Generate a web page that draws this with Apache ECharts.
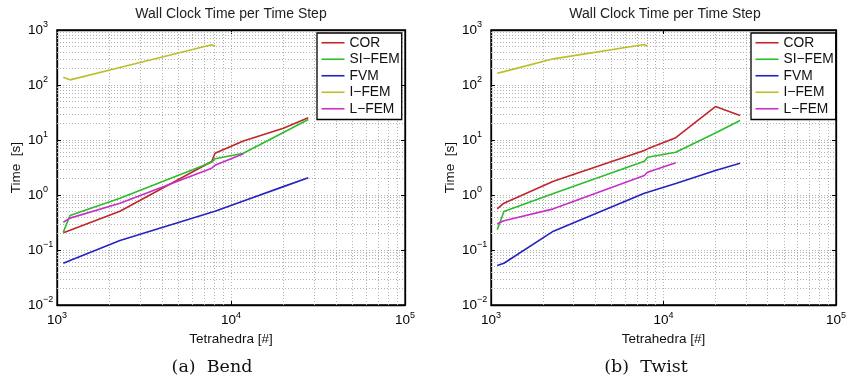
<!DOCTYPE html>
<html>
<head>
<meta charset="utf-8">
<script src="https://cdn.jsdelivr.net/npm/echarts@6/dist/echarts.min.js"></script>
<style>
  html, body { margin: 0; padding: 0; background: #ffffff; }
  #chart { width: 849px; height: 383px; }
</style>
</head>
<body>
<div id="chart"></div>
<script>
// Mesh sizes (number of tetrahedra) shared by both experiments
const tetrahedra = [1087, 1188, 2300, 7744, 8090, 11780, 20000, 27800];

const seriesNames = ['COR', 'SI\u2212FEM', 'FVM', 'I\u2212FEM', 'L\u2212FEM'];
const seriesColors = ['#c0262d', '#2cbd2c', '#2424c0', '#bdbd2a', '#c82ec8'];

// Wall clock time per time step [s], bend experiment
const bendCOR   = [0.206, 0.229, 0.507, 4.06, 5.75, 9.6, 16.4, 25.3];
const bendSIFEM = [0.211, 0.424, 0.87, 3.94, 4.55, 5.75, 13.7, 23.6];
const bendFVM   = [0.0575, 0.0647, 0.149, 0.486, 0.507, 0.78, 1.42, 2.06];
const bendIFEM  = [139, 124, 208, 538, 507, null, null, null];
const bendLFEM  = [0.32, 0.38, 0.71, 3.07, 3.47, 5.6, null, null];

// Wall clock time per time step [s], twist experiment
const twistCOR   = [0.56, 0.71, 1.78, 6.44, 6.9, 11.0, 40.6, 27.9];
const twistSIFEM = [0.233, 0.50, 1.07, 4.12, 4.87, 6.0, 13.4, 22.6];
const twistFVM   = [0.052, 0.0575, 0.22, 1.08, 1.12, 1.62, 2.78, 3.79];
const twistIFEM  = [164, 175, 299, 545, 501, null, null, null];
const twistLFEM  = [0.30, 0.34, 0.56, 2.26, 2.6, 3.85, null, null];

// Axis decades (tick labels are 10^e)
const xTickExponents = [3, 4, 5];
const yTickExponents = [-2, -1, 0, 1, 2, 3];
const minorMultipliers = [2, 3, 4, 5, 6, 7, 8, 9];

const panelTitle = 'Wall Clock Time per Time Step';
const captions = ['(a)  Bend', '(b)  Twist'];
const xName = 'Tetrahedra [#]';
const yName = 'Time  [s]';

const SANS = '"Liberation Sans", Arial, Helvetica, sans-serif';
const SERIF = '"DejaVu Serif", serif';

const xMin = Math.pow(10, xTickExponents[0]);
const xMax = Math.pow(10, xTickExponents[xTickExponents.length - 1]);
const yMin = Math.pow(10, yTickExponents[0]);
const yMax = Math.pow(10, yTickExponents[yTickExponents.length - 1]);

function powerLabel(value) {
  const e = Math.round(Math.log10(value));
  const s = e < 0 ? '\u2212' + (-e) : String(e);
  return '{b|10}{s|' + s + '}';
}
const labelRich = {
  b: { fontSize: 13.5, fontFamily: SANS, color: '#000' },
  s: { fontSize: 9, fontFamily: SANS, color: '#000', padding: [0, 0, 10, 0] }
};

function minorValues(exps) {
  const out = [];
  for (let i = 0; i < exps.length - 1; i++) {
    for (const m of minorMultipliers) out.push(m * Math.pow(10, exps[i]));
  }
  return out;
}

const gridLeft = [57, 491];
const gridW = 348;
const gridTop = 30;
const gridH = 275;
const dotted = { color: '#b3b3b3', type: [1, 2], width: 1 };
const tickStyle = { show: true, inside: true, length: 4, lineStyle: { color: '#000', width: 1 } };
const frameLine = { show: true, lineStyle: { color: '#000', width: 1.3 } };

const grids = [], xAxes = [], yAxes = [], series = [], titles = [], legends = [];

const panels = [
  [bendCOR, bendSIFEM, bendFVM, bendIFEM, bendLFEM],
  [twistCOR, twistSIFEM, twistFVM, twistIFEM, twistLFEM]
];

panels.forEach((panel, p) => {
  grids.push({
    left: gridLeft[p], top: gridTop, width: gridW, height: gridH,
    show: true, borderColor: '#000', borderWidth: 1.3, backgroundColor: '#fff'
  });
  // bottom / left axes carry labels and grid lines
  xAxes.push({
    type: 'log', logBase: 10, min: xMin, max: xMax, gridIndex: p, position: 'bottom',
    name: xName, nameLocation: 'middle', nameGap: 21,
    nameTextStyle: { fontSize: 13.5, fontFamily: SANS, color: '#111' },
    axisLine: frameLine, axisTick: tickStyle,
    axisLabel: { formatter: powerLabel, rich: labelRich, margin: 6 },
    splitLine: { show: true, lineStyle: dotted }
  });
  yAxes.push({
    type: 'log', logBase: 10, min: yMin, max: yMax, gridIndex: p, position: 'left',
    name: yName, nameLocation: 'middle', nameGap: 34,
    nameTextStyle: { fontSize: 13.5, fontFamily: SANS, color: '#111' },
    axisLine: frameLine, axisTick: tickStyle,
    axisLabel: { formatter: powerLabel, rich: labelRich, align: 'left', margin: 29 },
    splitLine: { show: true, lineStyle: dotted }
  });
  // top / right axes close the box and repeat the major ticks
  xAxes.push({
    type: 'log', logBase: 10, min: xMin, max: xMax, gridIndex: p, position: 'top',
    axisLine: frameLine, axisTick: tickStyle,
    axisLabel: { show: false }, splitLine: { show: false }
  });
  yAxes.push({
    type: 'log', logBase: 10, min: yMin, max: yMax, gridIndex: p, position: 'right',
    axisLine: frameLine, axisTick: tickStyle,
    axisLabel: { show: false }, splitLine: { show: false }
  });

  const xi = p * 2, yi = p * 2;
  panel.forEach((vals, k) => {
    const data = [];
    tetrahedra.forEach((t, i) => { if (vals[i] != null) data.push([t, vals[i]]); });
    series.push({
      name: seriesNames[k], type: 'line', xAxisIndex: xi, yAxisIndex: yi,
      data: data, symbol: 'none', showSymbol: false, z: 3,
      lineStyle: { color: seriesColors[k], width: 1.6 },
      itemStyle: { color: seriesColors[k] },
      animation: false
    });
  });

  // minor grid lines at 2..9 times each decade
  const ml = [];
  minorValues(xTickExponents).forEach(v => ml.push({ xAxis: v }));
  minorValues(yTickExponents).forEach(v => ml.push({ yAxis: v }));
  series.push({
    name: 'minor-grid-' + p, type: 'line', xAxisIndex: xi, yAxisIndex: yi,
    data: [], z: 1, animation: false,
    markLine: {
      silent: true, symbol: ['none', 'none'], animation: false, z: 1,
      label: { show: false }, lineStyle: dotted, data: ml
    }
  });

  const cx = gridLeft[p] + gridW / 2;
  titles.push({
    text: panelTitle, left: cx, top: 7, textAlign: 'center', padding: 0,
    textStyle: { fontSize: 14, fontWeight: 'normal', fontFamily: SANS, color: '#222' }
  });
  titles.push({
    text: captions[p], left: cx - 19, top: 358, textAlign: 'center', padding: 0,
    textStyle: { fontSize: 17.5, fontWeight: 'normal', fontFamily: SERIF, color: '#111' }
  });

  legends.push({
    data: seriesNames, orient: 'vertical', z: 20,
    left: gridLeft[p] + 260, top: 33,
    backgroundColor: '#fff', borderColor: '#000', borderWidth: 1.3,
    padding: [2, 2, 3, 4.5], itemGap: 1, itemWidth: 23, itemHeight: 1.6,
    icon: 'rect',
    textStyle: { fontSize: 13.8, fontFamily: SANS, color: '#111', lineHeight: 15.5 },
    selectedMode: false
  });
});

const chart = echarts.init(document.getElementById('chart'), null, { renderer: 'canvas' });
chart.setOption({
  animation: false,
  backgroundColor: '#fff',
  title: titles,
  legend: legends,
  grid: grids,
  xAxis: xAxes,
  yAxis: yAxes,
  series: series
});
</script>
</body>
</html>
